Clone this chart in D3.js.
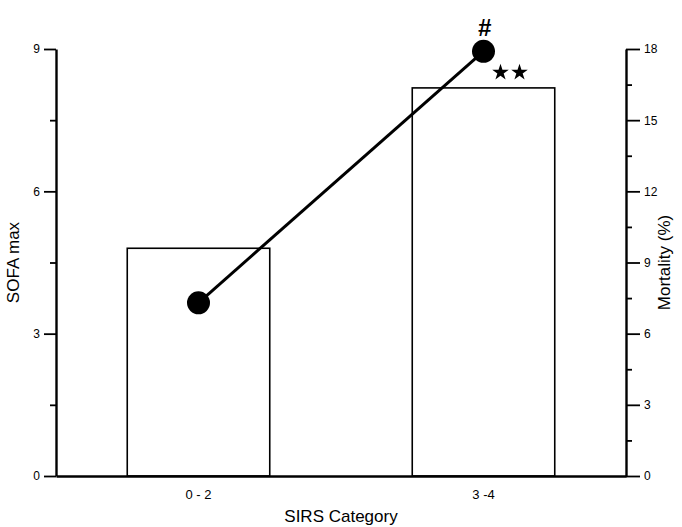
<!DOCTYPE html>
<html>
<head>
<meta charset="utf-8">
<script src="https://cdn.jsdelivr.net/npm/d3@7"></script>
<style>
  body { margin: 0; background: #fff; }
  text { font-family: "Liberation Sans", Arial, sans-serif; }
</style>
</head>
<body>
<script>
// data
const categories = ['0 - 2', '3 -4'];
const sofaMax = [4.8, 8.18];       // bars, left axis
const mortality = [7.3, 17.9];     // line + dots, right axis (%)
const leftTicks = [0, 3, 6, 9];
const leftMinor = [1.5, 4.5, 7.5];
const rightTicks = [0, 3, 6, 9, 12, 15, 18];
const rightMinor = [1.5, 4.5, 7.5, 10.5, 13.5, 16.5];

const width = 682;
const height = 527;
const margin = { top: 49, right: 56, bottom: 51, left: 56 };

const svg = d3.select('body')
  .append('svg')
  .attr('width', width)
  .attr('height', height);

// scales
const xScale = d3.scaleBand()
  .domain(categories)
  .range([margin.left, width - margin.right])
  .paddingInner(0.5)
  .paddingOuter(0.25);

const yLeft = d3.scaleLinear()
  .domain([0, 9])
  .range([height - margin.bottom, margin.top]);

const yRight = d3.scaleLinear()
  .domain([0, 18])
  .range([height - margin.bottom, margin.top]);

// bars
svg.append('g')
  .selectAll('rect')
  .data(sofaMax)
  .join('rect')
  .attr('x', (d, i) => xScale(categories[i]))
  .attr('y', d => yLeft(d))
  .attr('width', xScale.bandwidth())
  .attr('height', d => yLeft(0) - yLeft(d))
  .attr('fill', 'white')
  .attr('stroke', 'black')
  .attr('stroke-width', 1.6);

// left axis
const leftAxis = svg.append('g')
  .attr('transform', `translate(${margin.left},0)`);
leftAxis.call(d3.axisLeft(yLeft).tickValues(leftTicks).tickSize(12).tickSizeOuter(0).tickPadding(4));
leftAxis.append('g')
  .call(d3.axisLeft(yLeft).tickValues(leftMinor).tickSize(6).tickFormat(''))
  .select('.domain').remove();

// right axis
const rightAxis = svg.append('g')
  .attr('transform', `translate(${width - margin.right},0)`);
rightAxis.call(d3.axisRight(yRight).tickValues(rightTicks).tickSize(14).tickSizeOuter(0).tickPadding(4));
rightAxis.append('g')
  .call(d3.axisRight(yRight).tickValues(rightMinor).tickSize(6).tickFormat(''))
  .select('.domain').remove();

// bottom axis
const bottomAxis = svg.append('g')
  .attr('transform', `translate(0,${height - margin.bottom})`)
  .call(d3.axisBottom(xScale).tickSize(0).tickPadding(14));

[leftAxis, rightAxis, bottomAxis].forEach(g => {
  g.selectAll('.domain').attr('stroke-width', 2.4);
  g.selectAll('line').attr('stroke-width', 1.8);
  g.selectAll('text').attr('font-size', 12).attr('fill', 'black');
});
bottomAxis.selectAll('text').attr('font-size', 13);

// mortality line
const cx = d => xScale(d) + xScale.bandwidth() / 2;
const line = d3.line()
  .x((d, i) => cx(categories[i]))
  .y(d => yRight(d));

svg.append('path')
  .datum(mortality)
  .attr('d', line)
  .attr('fill', 'none')
  .attr('stroke', 'black')
  .attr('stroke-width', 3);

svg.append('g')
  .selectAll('circle')
  .data(mortality)
  .join('circle')
  .attr('cx', (d, i) => cx(categories[i]))
  .attr('cy', d => yRight(d))
  .attr('r', 11.5)
  .attr('fill', 'black');

// significance marks
const px = cx(categories[1]);
const py = yRight(mortality[1]);
svg.append('text')
  .attr('x', px + 1)
  .attr('y', py - 15)
  .attr('text-anchor', 'middle')
  .attr('font-size', 24)
  .attr('font-weight', 'bold')
  .attr('font-style', 'italic')
  .text('#');

svg.append('g')
  .selectAll('path')
  .data([0, 1])
  .join('path')
  .attr('d', d3.symbol().type(d3.symbolStar).size(85))
  .attr('transform', d => `translate(${px + 17 + d * 19},${py + 21})`)
  .attr('fill', 'black');

// axis titles
svg.append('text')
  .attr('transform', `translate(19,${(yLeft(0) + yLeft(9)) / 2}) rotate(-90)`)
  .attr('text-anchor', 'middle')
  .attr('font-size', 17)
  .text('SOFA max');

svg.append('text')
  .attr('transform', `translate(670,${(yRight(0) + yRight(18)) / 2}) rotate(-90)`)
  .attr('text-anchor', 'middle')
  .attr('font-size', 17)
  .text('Mortality (%)');

svg.append('text')
  .attr('x', (margin.left + width - margin.right) / 2)
  .attr('y', 522)
  .attr('text-anchor', 'middle')
  .attr('font-size', 17)
  .text('SIRS Category');
</script>
</body>
</html>
